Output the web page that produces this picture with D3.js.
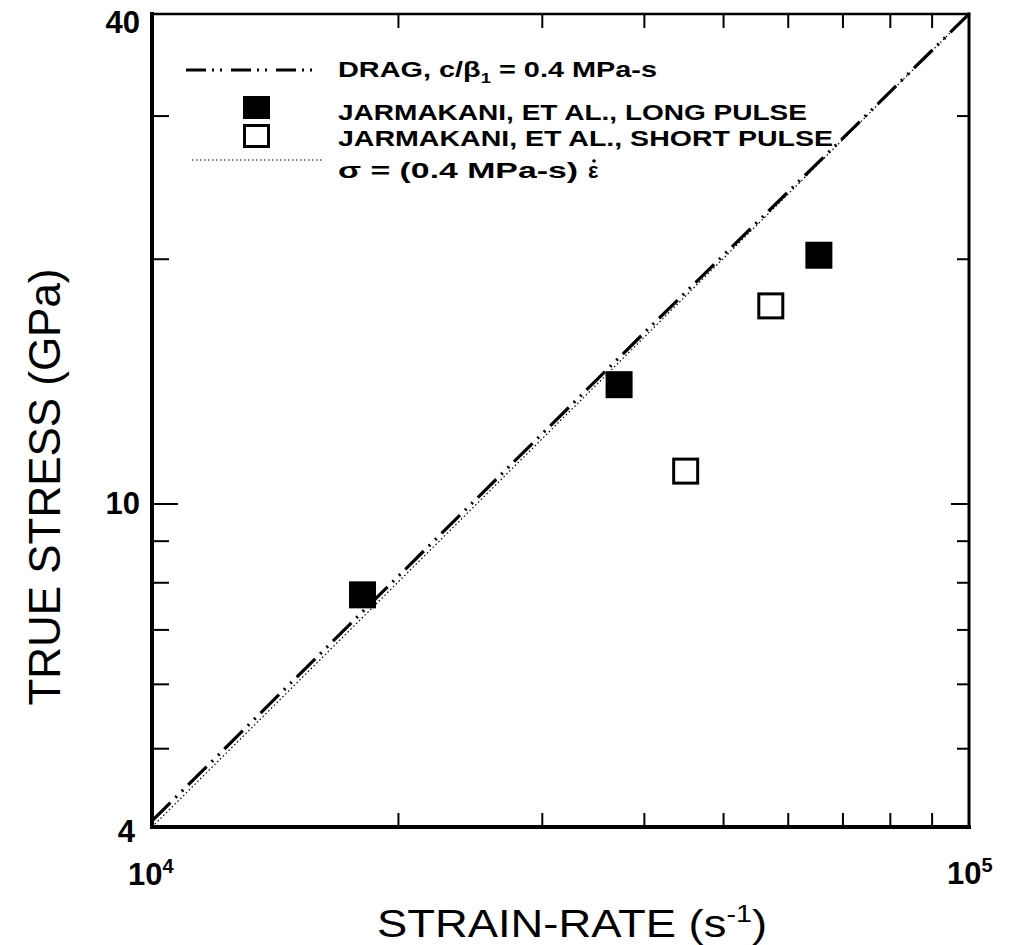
<!DOCTYPE html>
<html>
<head>
<meta charset="utf-8">
<script src="https://cdn.jsdelivr.net/npm/d3@7"></script>
<style>
  body { margin: 0; background: #fff; }
  text { font-family: "Liberation Sans", Arial, sans-serif; fill: #000; }
</style>
</head>
<body>
<svg width="1013" height="945"></svg>
<script>
// data
const longRate = [1.81e4, 3.73e4, 6.55e4];
const longStress = [7.72, 14.0, 20.2];
const shortRate = [4.50e4, 5.72e4];
const shortStress = [10.96, 17.5];
const dragRate = [1e4, 2e4, 4e4, 7e4, 1e5];
const dragStress = [4.07, 8.13, 16.2, 28.1, 40.0];
const linRate = [1e4, 1e5];
const linStress = [4, 40];

const xMinorTicks = [2e4, 3e4, 4e4, 5e4, 6e4, 7e4, 8e4, 9e4];
const yMinorTicks = [5, 6, 7, 8, 9, 20, 30];
const yMajorTicks = [10];

const svg = d3.select("svg");
const pLeft = 152, pRight = 969, pTop = 14, pBottom = 827;

const x = d3.scaleLog().domain([1e4, 1e5]).range([pLeft, pRight]);
const y = d3.scaleLog().domain([4, 40]).range([pBottom, pTop]);

// inward ticks on all four sides
function ticks(axis, tx, ty, len, vals) {
  const g = svg.append("g").attr("transform", `translate(${tx},${ty})`)
    .call(axis.tickValues(vals).tickSize(len).tickFormat(""));
  g.select(".domain").remove();
  g.selectAll("line").attr("stroke", "#000").attr("stroke-width", 2);
}
ticks(d3.axisBottom(x), 0, pBottom, -14, xMinorTicks);
ticks(d3.axisTop(x), 0, pTop, -14, xMinorTicks);
ticks(d3.axisLeft(y), pLeft, 0, -17, yMinorTicks);
ticks(d3.axisLeft(y), pLeft, 0, -26, yMajorTicks);
ticks(d3.axisRight(y), pRight, 0, -12, yMinorTicks);
ticks(d3.axisRight(y), pRight, 0, -18, yMajorTicks);

// frame
const frame = svg.append("g").attr("stroke", "#000").attr("stroke-linecap", "square");
frame.append("line").attr("x1", pLeft).attr("x2", pLeft).attr("y1", pTop).attr("y2", pBottom).attr("stroke-width", 4);
frame.append("line").attr("x1", pLeft).attr("x2", pRight).attr("y1", pBottom).attr("y2", pBottom).attr("stroke-width", 4);
frame.append("line").attr("x1", pLeft).attr("x2", pRight).attr("y1", pTop).attr("y2", pTop).attr("stroke-width", 2.5);
frame.append("line").attr("x1", pRight).attr("x2", pRight).attr("y1", pTop).attr("y2", pBottom).attr("stroke-width", 3);

const line = d3.line().x(d => x(d[0])).y(d => y(d[1]));

// sigma = (0.4 MPa-s) * strain rate
svg.append("path")
  .attr("d", line(d3.zip(linRate, linStress)))
  .attr("fill", "none").attr("stroke", "#000").attr("stroke-width", 1.2)
  .attr("stroke-dasharray", "1.5,2.5");

// drag model
svg.append("path")
  .attr("d", line(d3.zip(dragRate, dragStress)))
  .attr("fill", "none").attr("stroke", "#000").attr("stroke-width", 3.2)
  .attr("stroke-dasharray", "26,7,2,7,2,7");

const size = 27;
svg.append("g").selectAll("rect")
  .data(d3.zip(longRate, longStress))
  .join("rect")
  .attr("x", d => x(d[0]) - size / 2)
  .attr("y", d => y(d[1]) - size / 2)
  .attr("width", size).attr("height", size)
  .attr("fill", "#000");

svg.append("g").selectAll("rect")
  .data(d3.zip(shortRate, shortStress))
  .join("rect")
  .attr("x", d => x(d[0]) - size / 2 + 1.5)
  .attr("y", d => y(d[1]) - size / 2 + 1.5)
  .attr("width", size - 3).attr("height", size - 3)
  .attr("fill", "#fff").attr("stroke", "#000").attr("stroke-width", 3);

// legend
const lg = svg.append("g");
lg.append("line").attr("x1", 186).attr("x2", 317).attr("y1", 70).attr("y2", 70)
  .attr("stroke", "#000").attr("stroke-width", 3.2).attr("stroke-dasharray", "20,6,2,6,2,9");
lg.append("rect").attr("x", 243).attr("y", 96).attr("width", 27).attr("height", 23).attr("fill", "#000");
lg.append("rect").attr("x", 244.5).attr("y", 125.5).attr("width", 24).attr("height", 21)
  .attr("fill", "#fff").attr("stroke", "#000").attr("stroke-width", 3);
lg.append("line").attr("x1", 192).attr("x2", 323).attr("y1", 160).attr("y2", 160)
  .attr("stroke", "#000").attr("stroke-width", 1.2).attr("stroke-dasharray", "1.5,2.5");

const legendFont = 22;
const t1 = lg.append("text").attr("x", 338).attr("y", 77).attr("font-size", legendFont)
  .attr("font-weight", "bold").attr("textLength", 319).attr("lengthAdjust", "spacingAndGlyphs");
t1.append("tspan").text("DRAG, c/β");
t1.append("tspan").attr("font-size", 14).attr("dy", 6).text("1");
t1.append("tspan").attr("dy", -6).text(" = 0.4 MPa-s");

lg.append("text").attr("x", 338).attr("y", 120).attr("font-size", legendFont)
  .attr("font-weight", "bold").attr("textLength", 469).attr("lengthAdjust", "spacingAndGlyphs")
  .text("JARMAKANI, ET AL., LONG PULSE");
lg.append("text").attr("x", 338).attr("y", 146).attr("font-size", legendFont)
  .attr("font-weight", "bold").attr("textLength", 495).attr("lengthAdjust", "spacingAndGlyphs")
  .text("JARMAKANI, ET AL., SHORT PULSE");
lg.append("text").attr("x", 338).attr("y", 178).attr("font-size", legendFont)
  .attr("font-weight", "bold").attr("textLength", 240).attr("lengthAdjust", "spacingAndGlyphs")
  .text("σ = (0.4 MPa-s)");
// strain-rate symbol: epsilon with a dot above
lg.append("text").attr("x", 588).attr("y", 178).attr("font-size", legendFont)
  .attr("font-weight", "bold").text("ε");
lg.append("circle").attr("cx", 594).attr("cy", 161).attr("r", 1.8).attr("fill", "#000");

// tick labels
const tickFont = 31;
svg.append("text").attr("x", 140).attr("y", 33).attr("text-anchor", "end")
  .attr("font-size", tickFont).attr("font-weight", "bold").text("40");
svg.append("text").attr("x", 140).attr("y", 514).attr("text-anchor", "end")
  .attr("font-size", tickFont).attr("font-weight", "bold").text("10");
svg.append("text").attr("x", 135).attr("y", 842).attr("text-anchor", "end")
  .attr("font-size", tickFont).attr("font-weight", "bold").text("4");

function powLabel(px, py, exp) {
  const t = svg.append("text").attr("x", px).attr("y", py)
    .attr("font-size", tickFont).attr("font-weight", "bold");
  t.append("tspan").text("10");
  t.append("tspan").attr("font-size", 20).attr("dy", -12).text(exp);
}
powLabel(128, 885, "4");
powLabel(947, 884, "5");

// axis titles
const xt = svg.append("text").attr("x", 377).attr("y", 937).attr("font-size", 38)
  .attr("textLength", 390).attr("lengthAdjust", "spacingAndGlyphs");
xt.append("tspan").text("STRAIN-RATE (s");
xt.append("tspan").attr("font-size", 24).attr("dy", -15).text("-1");
xt.append("tspan").attr("dy", 15).text(")");

svg.append("text")
  .attr("transform", "translate(60,487) rotate(-90)")
  .attr("text-anchor", "middle").attr("font-size", 44)
  .attr("textLength", 437).attr("lengthAdjust", "spacingAndGlyphs")
  .text("TRUE STRESS (GPa)");
</script>
</body>
</html>
